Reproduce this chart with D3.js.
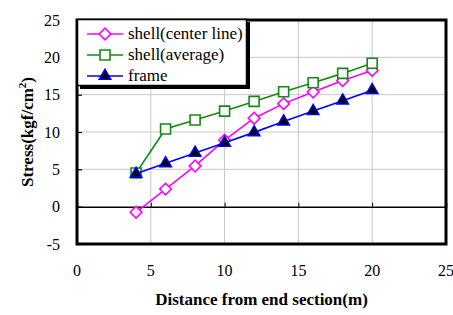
<!DOCTYPE html>
<html>
<head>
<meta charset="utf-8">
<script src="https://cdn.jsdelivr.net/npm/d3@7/dist/d3.min.js"></script>
<style>
  body { margin: 0; background: #fff; }
  svg { display: block; }
</style>
</head>
<body>
<div id="chart"></div>
<script>
// data
var distances = [4, 6, 8, 10, 12, 14, 16, 18, 20];
var shellCenter = [-0.75, 2.35, 5.45, 8.9, 11.85, 13.8, 15.35, 16.9, 18.25];
var shellAverage = [4.5, 10.4, 11.6, 12.8, 14.1, 15.4, 16.6, 17.85, 19.2];
var frameStress = [4.4, 5.8, 7.2, 8.55, 9.95, 11.4, 12.8, 14.2, 15.6];
var xTicks = [0, 5, 10, 15, 20, 25];
var yTicks = [-5, 0, 5, 10, 15, 20, 25];

var series = [
  { name: "shell(center line)", values: shellCenter, color: "#ff00ff", marker: "diamond" },
  { name: "shell(average)", values: shellAverage, color: "#138a13", marker: "square" },
  { name: "frame", values: frameStress, color: "#0000ff", marker: "triangle" }
];

var FONT = "'Liberation Serif', 'Times New Roman', serif";
var width = 453, height = 315;
var margin = { top: 20, right: 7, bottom: 71, left: 77 };

var svg = d3.select( "#chart" ).append( "svg" )
  .attr( "width", width )
  .attr( "height", height );

var x = d3.scaleLinear().domain( [0, 25] ).range( [margin.left, width - margin.right] );
var y = d3.scaleLinear().domain( [-5, 25] ).range( [height - margin.bottom, margin.top] );

// grid
svg.append( "g" ).selectAll( "line" )
  .data( xTicks.slice( 1, -1 ) )
  .enter().append( "line" )
  .attr( "x1", function ( d ) { return x( d ); } )
  .attr( "x2", function ( d ) { return x( d ); } )
  .attr( "y1", y( -5 ) ).attr( "y2", y( 25 ) )
  .attr( "stroke", "#c8c8c8" ).attr( "stroke-width", 1 );

svg.append( "g" ).selectAll( "line" )
  .data( yTicks.filter( function ( d ) { return d !== 0 && d !== -5 && d !== 25; } ) )
  .enter().append( "line" )
  .attr( "x1", x( 0 ) ).attr( "x2", x( 25 ) )
  .attr( "y1", function ( d ) { return y( d ); } )
  .attr( "y2", function ( d ) { return y( d ); } )
  .attr( "stroke", "#c8c8c8" ).attr( "stroke-width", 1 );

// x axis sits on the zero line
var xAxis = d3.axisTop( x ).tickValues( xTicks.slice( 1, -1 ) ).tickSize( 4 ).tickFormat( "" );
var xg = svg.append( "g" ).attr( "transform", "translate(0," + y( 0 ) + ")" ).call( xAxis );
xg.select( ".domain" ).attr( "stroke", "#000" ).attr( "stroke-width", 1.5 );

// y ticks point inward
var yAxis = d3.axisRight( y ).tickValues( yTicks ).tickSize( 5 ).tickFormat( "" );
var yg = svg.append( "g" ).attr( "transform", "translate(" + x( 0 ) + ",0)" ).call( yAxis );
yg.select( ".domain" ).remove();
yg.selectAll( "line" ).attr( "stroke-width", 1.2 );

// tick labels
svg.append( "g" ).selectAll( "text" )
  .data( yTicks )
  .enter().append( "text" )
  .attr( "x", 60 )
  .attr( "y", function ( d ) { return y( d ); } )
  .attr( "dy", "0.35em" )
  .attr( "text-anchor", "end" )
  .attr( "font-family", FONT )
  .style( "font-size", "16px" )
  .text( function ( d ) { return d; } );

svg.append( "g" ).selectAll( "text" )
  .data( xTicks )
  .enter().append( "text" )
  .attr( "x", function ( d ) { return x( d ); } )
  .attr( "y", 276 )
  .attr( "text-anchor", "middle" )
  .attr( "font-family", FONT )
  .style( "font-size", "16px" )
  .text( function ( d ) { return d; } );

// frame around the plot
svg.append( "rect" )
  .attr( "x", x( 0 ) ).attr( "y", y( 25 ) )
  .attr( "width", x( 25 ) - x( 0 ) ).attr( "height", y( -5 ) - y( 25 ) )
  .attr( "fill", "none" ).attr( "stroke", "#000" ).attr( "stroke-width", 3 );

// markers
var symbols = {
  diamond: d3.symbol().type( d3.symbolSquare ).size( 68 ),
  square: d3.symbol().type( d3.symbolSquare ).size( 100 ),
  triangle: d3.symbol().type( d3.symbolTriangle ).size( 58 )
};

function drawMarker( sel, s ) {
  var p = sel.append( "path" )
    .attr( "d", symbols[s.marker]() )
    .attr( "stroke", s.color )
    .attr( "stroke-width", s.marker === "triangle" ? 1.5 : 1.6 )
    .attr( "fill", s.marker === "triangle" ? "#000" : "#fff" );
  if ( s.marker === "diamond" ) p.attr( "transform", "rotate(45)" );
  return p;
}

var line = d3.line()
  .x( function ( d ) { return x( d[0] ); } )
  .y( function ( d ) { return y( d[1] ); } );

series.forEach( function ( s ) {
  var pts = distances.map( function ( d, i ) { return [d, s.values[i]]; } );
  var g = svg.append( "g" );
  g.append( "path" )
    .attr( "d", line( pts ) )
    .attr( "fill", "none" )
    .attr( "stroke", s.color )
    .attr( "stroke-width", 1.6 );
  g.selectAll( ".pt" )
    .data( pts )
    .enter().append( "g" )
    .attr( "class", "pt" )
    .attr( "transform", function ( d ) { return "translate(" + x( d[0] ) + "," + y( d[1] ) + ")"; } )
    .each( function () { drawMarker( d3.select( this ), s ); } );
} );

// legend with drop shadow
var lg = svg.append( "g" );
lg.append( "rect" )
  .attr( "x", 80 ).attr( "y", 22 ).attr( "width", 170 ).attr( "height", 67 )
  .attr( "fill", "#000" );
lg.append( "rect" )
  .attr( "x", 77.5 ).attr( "y", 19.5 ).attr( "width", 169 ).attr( "height", 66 )
  .attr( "fill", "#fff" ).attr( "stroke", "#000" ).attr( "stroke-width", 1.5 );

series.forEach( function ( s, i ) {
  var cy = 34 + i * 21;
  var item = lg.append( "g" );
  item.append( "line" )
    .attr( "x1", 87 ).attr( "x2", 123 )
    .attr( "y1", cy ).attr( "y2", cy )
    .attr( "stroke", s.color ).attr( "stroke-width", 1.6 );
  drawMarker( item.append( "g" ).attr( "transform", "translate(105," + cy + ")" ), s );
  item.append( "text" )
    .attr( "x", 128 ).attr( "y", cy ).attr( "dy", "0.32em" )
    .attr( "font-family", FONT )
    .style( "font-size", "17px" )
    .text( s.name );
} );

// axis titles
svg.append( "text" )
  .attr( "x", ( x( 0 ) + x( 25 ) ) / 2 )
  .attr( "y", 305 )
  .attr( "text-anchor", "middle" )
  .attr( "font-family", FONT )
  .style( "font-size", "17px" ).style( "font-weight", "bold" )
  .text( "Distance from end section(m)" );

var yt = svg.append( "text" )
  .attr( "transform", "translate(33," + ( ( y( -5 ) + y( 25 ) ) / 2 ) + ") rotate(-90)" )
  .attr( "text-anchor", "middle" )
  .attr( "font-family", FONT )
  .style( "font-size", "17px" ).style( "font-weight", "bold" );
yt.append( "tspan" ).text( "Stress(kgf/cm" );
yt.append( "tspan" ).attr( "dy", -7 ).style( "font-size", "11px" ).text( "2" );
yt.append( "tspan" ).attr( "dy", 7 ).text( ")" );
</script>
</body>
</html>
